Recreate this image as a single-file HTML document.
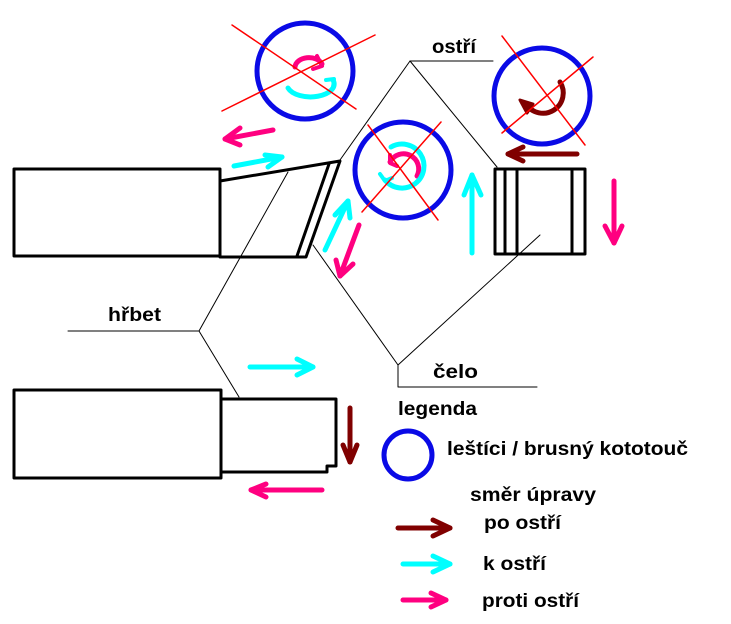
<!DOCTYPE html>
<html><head><meta charset="utf-8"><style>
html,body{margin:0;padding:0;background:#fff;}
svg{display:block;}
text{font-family:"Liberation Sans",sans-serif;font-weight:bold;font-size:19px;fill:#000;}
</style></head><body>
<svg width="731" height="624" viewBox="0 0 731 624" xmlns="http://www.w3.org/2000/svg">
<g fill="none" stroke-linecap="round" stroke-linejoin="round">
<g stroke="#000" stroke-width="3">
<rect x="14" y="169" width="206" height="87"/>
<polygon points="220,181 340,161 306,257 220,257"/>
<line x1="329" y1="164" x2="297" y2="256"/>
<rect x="495" y="169" width="90" height="85"/>
<line x1="505" y1="169" x2="505" y2="254"/>
<line x1="517" y1="169" x2="517" y2="254"/>
<line x1="572" y1="169" x2="572" y2="254"/>
<rect x="14" y="390" width="207" height="88"/>
<polyline points="221,399 336,399 336,466 327,466 327,472 221,472"/>
</g>
<g stroke="#000" stroke-width="1">
<line x1="410" y1="61" x2="493" y2="61"/>
<line x1="410" y1="61" x2="340" y2="160"/>
<line x1="410" y1="61" x2="497" y2="167"/>
<line x1="288" y1="172" x2="199" y2="331"/>
<line x1="199" y1="331" x2="68" y2="331"/>
<line x1="199" y1="331" x2="239" y2="397"/>
<line x1="313" y1="245" x2="398" y2="365"/>
<line x1="540" y1="235" x2="398" y2="365"/>
<polyline points="398,365 398,387 537,387"/>
</g>
<g stroke="#0a0ae6" stroke-width="5">
<circle cx="305" cy="71" r="48"/>
<circle cx="403" cy="170" r="48"/>
<circle cx="542" cy="96" r="48"/>
<circle cx="408" cy="455" r="24"/>
</g>
<path d="M295,67 A14,10 0 0 1 322,64" stroke="#ff0080" stroke-width="5"/>
<polyline points="317,56 322,66 313,69" stroke="#ff0080" stroke-width="4"/>
<path d="M288,88 A22,12 0 0 0 333,80" stroke="#00ffff" stroke-width="5"/>
<polyline points="326,80 334,79 333,88" stroke="#00ffff" stroke-width="4"/>
<path d="M390,162 A12,12 0 1 1 417,176" stroke="#ff0080" stroke-width="5"/>
<polyline points="390,155 390,163 397,166" stroke="#ff0080" stroke-width="4"/>
<path d="M391,147 A22,22 0 1 1 385,180" stroke="#00ffff" stroke-width="5"/>
<polyline points="380,174 385,181 392,178" stroke="#00ffff" stroke-width="4"/>
<path d="M560,82 A18,18 0 1 1 526,104" stroke="#800000" stroke-width="5"/>
<polygon points="520,100 533,104 527,113" fill="#800000" stroke="#800000" stroke-width="3"/>
<g stroke="#ff0000" stroke-width="1.5">
<line x1="232" y1="25" x2="356" y2="109"/>
<line x1="222" y1="111" x2="375" y2="35"/>
<line x1="368" y1="125" x2="438" y2="220"/>
<line x1="362" y1="212" x2="441" y2="122"/>
<line x1="502" y1="36" x2="585" y2="145"/>
<line x1="502" y1="133" x2="593" y2="57"/>
</g>
<g stroke-width="5">
<g stroke="#ff0080">
<line x1="273" y1="130" x2="225" y2="139"/><polyline points="240,128 225,139 240,145"/>
<line x1="359" y1="225" x2="340" y2="276"/><polyline points="336,260 340,276 353,264"/>
<line x1="614" y1="181" x2="614" y2="243"/><polyline points="605,226 614,243 622,226"/>
<line x1="322" y1="490" x2="251" y2="490"/><polyline points="266,484 251,490 266,497"/>
<line x1="403" y1="600" x2="446" y2="600"/><polyline points="431,593 446,600 431,607"/>
</g>
<g stroke="#00ffff">
<line x1="234" y1="166" x2="282" y2="157"/><polyline points="265,155 282,157 268,167"/>
<line x1="325" y1="250" x2="348" y2="201"/><polyline points="335,215 348,201 350,218"/>
<line x1="472" y1="253" x2="472" y2="175"/><polyline points="464,195 472,175 481,195"/>
<line x1="250" y1="367" x2="313" y2="367"/><polyline points="297,359 313,367 297,375"/>
<line x1="403" y1="564" x2="450" y2="564"/><polyline points="433,556 450,564 433,572"/>
</g>
<g stroke="#800000">
<line x1="577" y1="154" x2="508" y2="154"/><polyline points="523,147 508,154 523,161"/>
<line x1="350" y1="408" x2="350" y2="462"/><polyline points="343,445 350,462 357,445"/>
<line x1="398" y1="528" x2="450" y2="528"/><polyline points="433,520 450,528 433,536"/>
</g>
</g>
</g>
<text x="432" y="53" textLength="44" lengthAdjust="spacingAndGlyphs">ostří</text>
<text x="108" y="321" textLength="53" lengthAdjust="spacingAndGlyphs">hřbet</text>
<text x="433" y="378" textLength="45" lengthAdjust="spacingAndGlyphs">čelo</text>
<text x="398" y="415" textLength="79" lengthAdjust="spacingAndGlyphs">legenda</text>
<text x="447" y="455" textLength="241" lengthAdjust="spacingAndGlyphs">leštíci / brusný kototouč</text>
<text x="470" y="501" textLength="126" lengthAdjust="spacingAndGlyphs">směr úpravy</text>
<text x="484" y="529" textLength="77" lengthAdjust="spacingAndGlyphs">po ostří</text>
<text x="483" y="570" textLength="63" lengthAdjust="spacingAndGlyphs">k ostří</text>
<text x="482" y="607" textLength="97" lengthAdjust="spacingAndGlyphs">proti ostří</text>
</svg>
</body></html>
